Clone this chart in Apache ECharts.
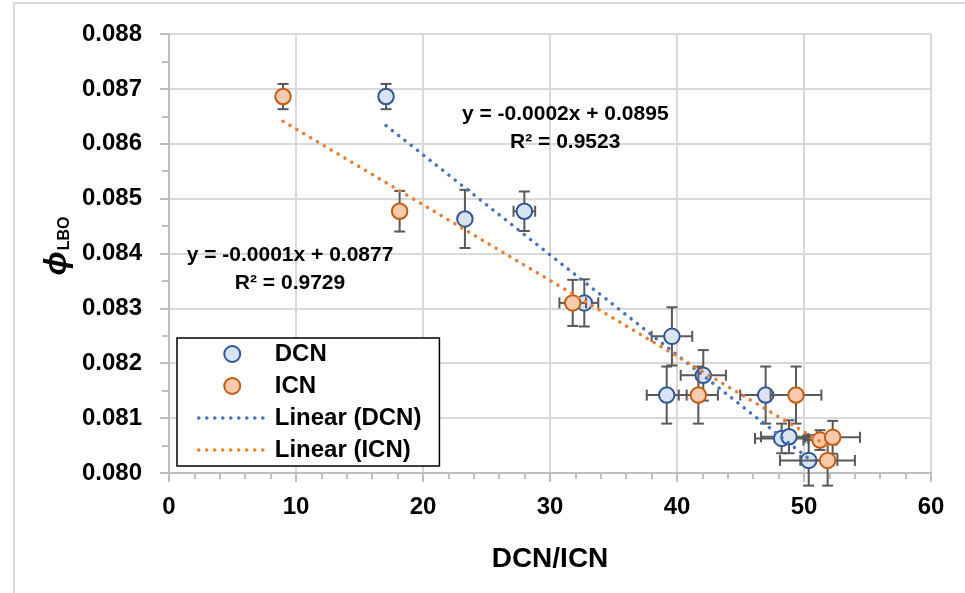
<!DOCTYPE html>
<html>
<head>
<meta charset="utf-8">
<script src="https://cdn.jsdelivr.net/npm/echarts@6/dist/echarts.min.js"></script>
<style>
  html, body { margin: 0; padding: 0; background: #fff; }
  #chart { width: 965px; height: 593px; }
</style>
</head>
<body>
<div id="chart"></div>
<script>
// Axis ticks
const xTicks = [0, 10, 20, 30, 40, 50, 60];
const yTicks = ['0.080', '0.081', '0.082', '0.083', '0.084', '0.085', '0.086', '0.087', '0.088'];

// DCN measurements: mean value, x error and y error
const dcnX    = [17.09, 23.3, 27.98, 32.7, 39.6, 42.07, 39.19, 46.98, 48.24, 48.82, 50.37];
const dcnY    = [0.08686, 0.08463, 0.08477, 0.0831, 0.08249, 0.08178, 0.08142, 0.08142, 0.08063, 0.08066, 0.08023];
const dcnXErr = [0, 0, 0.85, 1.1, 1.6, 1.78, 1.57, 2.0, 2.1, 2.2, 2.26];
const dcnYErr = [0.00023, 0.00053, 0.00036, 0.00043, 0.00053, 0.00046, 0.00052, 0.00052, 0.00027, 0.0003, 0.00046];

// ICN measurements
const icnX    = [8.98, 18.16, 31.79, 41.68, 49.37, 51.26, 52.26, 51.86];
const icnY    = [0.08686, 0.08477, 0.0831, 0.08142, 0.08142, 0.0806, 0.08065, 0.08023];
const icnXErr = [0, 0, 1.05, 1.54, 2.0, 1.3, 2.15, 2.15];
const icnYErr = [0.00023, 0.00037, 0.00042, 0.00052, 0.00052, 0.00018, 0.0003, 0.00046];

// Trendline annotations
const dcnEquation = ['y = -0.0002x + 0.0895', 'R² = 0.9523'];
const icnEquation = ['y = -0.0001x + 0.0877', 'R² = 0.9729'];

const FONT = '"Liberation Sans", Arial, sans-serif';

function zip(xs, ys) { return xs.map((x, i) => [x, ys[i]]); }
function zipErr(xs, ys, ex, ey) { return xs.map((x, i) => [x, ys[i], ex[i], ey[i]]); }

// Ordinary least-squares fit, returned as the two end points over the data range
function linearTrend(xs, ys) {
  const n = xs.length;
  const mx = xs.reduce((a, b) => a + b, 0) / n;
  const my = ys.reduce((a, b) => a + b, 0) / n;
  let sxy = 0, sxx = 0;
  for (let i = 0; i < n; i++) { sxy += (xs[i] - mx) * (ys[i] - my); sxx += (xs[i] - mx) ** 2; }
  const slope = sxy / sxx, icpt = my - slope * mx;
  const lo = Math.min(...xs), hi = Math.max(...xs);
  return [[lo, icpt + slope * lo], [hi, icpt + slope * hi]];
}

function errorBars(params, api) {
  const x = api.value(0), y = api.value(1), ex = api.value(2), ey = api.value(3);
  const cap = 5.5;
  const style = { stroke: '#595959', lineWidth: 2, fill: null };
  const kids = [];
  const seg = (x1, y1, x2, y2) => kids.push({ type: 'line', shape: { x1, y1, x2, y2 }, style });
  if (ey > 0) {
    const t = api.coord([x, y + ey]), b = api.coord([x, y - ey]);
    seg(t[0], t[1], b[0], b[1]);
    seg(t[0] - cap, t[1], t[0] + cap, t[1]);
    seg(b[0] - cap, b[1], b[0] + cap, b[1]);
  }
  if (ex > 0) {
    const l = api.coord([x - ex, y]), r = api.coord([x + ex, y]);
    seg(l[0], l[1], r[0], r[1]);
    seg(l[0], l[1] - cap, l[0], l[1] + cap);
    seg(r[0], r[1] - cap, r[0], r[1] + cap);
  }
  return { type: 'group', children: kids };
}

const axisGrey = '#bfbfbf';
const gridGrey = '#d9d9d9';
const dotted = [0.1, 7.9];

const dcnStyle = { color: '#dae3f3', borderColor: '#2f5597', borderWidth: 2, opacity: 1 };
const icnStyle = { color: '#f8cbad', borderColor: '#c55a11', borderWidth: 2, opacity: 1 };

const chart = echarts.init(document.getElementById('chart'), null, { renderer: 'canvas' });

chart.setOption({
  animation: false,
  backgroundColor: '#fff',
  textStyle: { fontFamily: FONT },
  grid: { left: 169, right: 34, top: 34, bottom: 120, containLabel: false },
  xAxis: {
    type: 'value',
    min: xTicks[0], max: xTicks[xTicks.length - 1], interval: xTicks[1] - xTicks[0],
    axisLine: { show: true, onZero: false, lineStyle: { color: axisGrey, width: 2 } },
    axisTick: { show: true, length: 9, lineStyle: { color: axisGrey, width: 2 } },
    minorTick: { show: true, splitNumber: 5, length: 6, lineStyle: { color: axisGrey, width: 2 } },
    splitLine: { show: true, lineStyle: { color: gridGrey, width: 2 } },
    axisLabel: { color: '#000', fontSize: 24, fontWeight: 'bold', fontFamily: FONT, margin: 22 },
    name: 'DCN/ICN', nameLocation: 'middle', nameGap: 72,
    nameTextStyle: { color: '#000', fontSize: 28, fontWeight: 'bold', fontFamily: FONT }
  },
  yAxis: {
    type: 'value',
    min: Number(yTicks[0]), max: Number(yTicks[yTicks.length - 1]), interval: 0.001,
    axisLine: { show: true, onZero: false, lineStyle: { color: axisGrey, width: 2 } },
    axisTick: { show: true, length: 9, lineStyle: { color: axisGrey, width: 2 } },
    minorTick: { show: true, splitNumber: 2, length: 7, lineStyle: { color: axisGrey, width: 2 } },
    splitLine: { show: true, lineStyle: { color: gridGrey, width: 2 } },
    axisLabel: {
      color: '#000', fontSize: 24, fontWeight: 'bold', fontFamily: FONT, margin: 27,
      formatter: v => v.toFixed(3)
    }
  },
  legend: {
    orient: 'vertical',
    left: 177, top: 338,
    data: [
      { name: 'DCN', itemStyle: dcnStyle },
      { name: 'ICN', itemStyle: icnStyle },
      { name: 'Linear (DCN)', itemStyle: { opacity: 0 } },
      { name: 'Linear (ICN)', itemStyle: { opacity: 0 } }
    ],
    backgroundColor: '#fff',
    borderColor: '#000', borderWidth: 1.5, borderRadius: 0,
    padding: [4, 18, 4, 20],
    itemWidth: 67, itemHeight: 16, itemGap: 8,
    lineStyle: { width: 3.5, cap: 'round' },
    textStyle: { color: '#000', fontSize: 24, fontWeight: 'bold', fontFamily: FONT, lineHeight: 24, padding: [0, 0, 0, 4] },
    selectedMode: false
  },
  series: [
    {
      name: 'DCN err', type: 'custom', z: 2, renderItem: errorBars, silent: true,
      encode: { x: 0, y: 1 }, data: zipErr(dcnX, dcnY, dcnXErr, dcnYErr)
    },
    {
      name: 'DCN', type: 'scatter', z: 3, symbol: 'circle', symbolSize: 15.5,
      itemStyle: dcnStyle,
      data: zip(dcnX, dcnY)
    },
    {
      name: 'ICN err', type: 'custom', z: 4, renderItem: errorBars, silent: true,
      encode: { x: 0, y: 1 }, data: zipErr(icnX, icnY, icnXErr, icnYErr)
    },
    {
      name: 'ICN', type: 'scatter', z: 5, symbol: 'circle', symbolSize: 15.5,
      itemStyle: icnStyle,
      data: zip(icnX, icnY)
    },
    {
      name: 'Linear (DCN)', type: 'line', z: 6, symbol: 'none', showSymbol: false, silent: true,
      lineStyle: { color: '#4472c4', width: 3.5, type: dotted, cap: 'round' },
      itemStyle: { color: '#4472c4' },
      data: linearTrend(dcnX, dcnY)
    },
    {
      name: 'Linear (ICN)', type: 'line', z: 6, symbol: 'none', showSymbol: false, silent: true,
      lineStyle: { color: '#ed7d31', width: 3.5, type: dotted, cap: 'round' },
      itemStyle: { color: '#ed7d31' },
      data: linearTrend(icnX, icnY)
    }
  ]
});

// Annotations anchored in data space
const eqStyle = { fill: '#000', fontSize: 21, fontWeight: 'bold', fontFamily: FONT, align: 'center', verticalAlign: 'middle', lineHeight: 28 };
const dcnAt = chart.convertToPixel({ gridIndex: 0 }, [31.2, 0.086275]);
const icnAt = chart.convertToPixel({ gridIndex: 0 }, [9.53, 0.083715]);

chart.setOption({
  graphic: [
    {
      type: 'rect', silent: true, z: -10,
      shape: { x: 14, y: 3, width: 1100, height: 800 },
      style: { fill: null, stroke: '#d9d9d9', lineWidth: 2 }
    },
    {
      type: 'text', silent: true, z: 10,
      x: 57, y: 246, rotation: Math.PI / 2,
      style: {
        text: '{p|ϕ}{s|LBO}',
        align: 'center', verticalAlign: 'middle',
        rich: {
          p: { fill: '#000', fontSize: 32, fontWeight: 'bold', fontStyle: 'italic', fontFamily: FONT },
          s: { fill: '#000', fontSize: 16, fontWeight: 'bold', fontFamily: FONT, padding: [16, 0, 0, 1] }
        }
      }
    },
    {
      type: 'text', silent: true, z: 10, x: dcnAt[0], y: dcnAt[1],
      style: Object.assign({ text: dcnEquation.join('\n') }, eqStyle)
    },
    {
      type: 'text', silent: true, z: 10, x: icnAt[0], y: icnAt[1],
      style: Object.assign({ text: icnEquation.join('\n') }, eqStyle)
    }
  ]
});
</script>
</body>
</html>
